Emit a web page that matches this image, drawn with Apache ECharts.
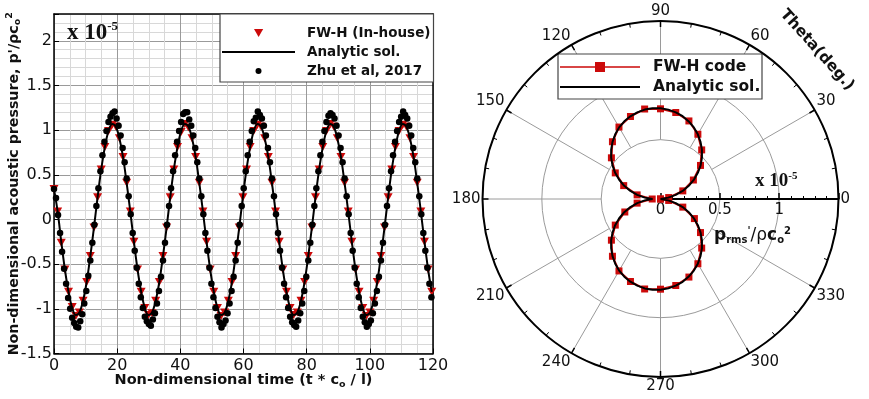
<!DOCTYPE html>
<html>
<head>
<meta charset="utf-8">
<script src="https://cdn.jsdelivr.net/npm/echarts@6/dist/echarts.min.js"></script>
<style>
html,body{margin:0;padding:0;background:#fff}
#chart{width:869px;height:399px}
</style>
</head>
<body>
<div id="chart"></div>
<script>
// left panel: pressure history (values x 1e-5), sampled at a fixed time step
const fwhStep = 1.15
const fwhValues = [
  0.34, 0.09, -0.26, -0.56, -0.81, -0.98, -1.08, -1.04, -0.91, -0.70, -0.41, -0.09, 0.25, 0.56, 0.81, 0.99, 1.06, 1.04, 0.91, 0.70,
  0.41, 0.09, -0.25, -0.56, -0.81, -0.99, -1.07, -1.05, -0.91, -0.70, -0.41, -0.09, 0.25, 0.56, 0.81, 0.98, 1.07, 1.03, 0.91, 0.70,
  0.41, 0.09, -0.25, -0.56, -0.81, -0.99, -1.08, -1.04, -0.91, -0.70, -0.41, -0.09, 0.25, 0.56, 0.81, 0.99, 1.06, 1.04, 0.91, 0.70,
  0.41, 0.09, -0.25, -0.56, -0.81, -0.99, -1.07, -1.04, -0.91, -0.70, -0.41, -0.09, 0.25, 0.56, 0.81, 0.99, 1.07, 1.04, 0.91, 0.70,
  0.41, 0.09, -0.25, -0.56, -0.81, -0.99, -1.08, -1.04, -0.91, -0.70, -0.41, -0.09, 0.25, 0.56, 0.81, 0.99, 1.06, 1.04, 0.91, 0.70,
  0.41, 0.09, -0.25, -0.56, -0.81
]
const analyticStep = 1.15
const analyticValues = [
  0.34, 0.09, -0.25, -0.56, -0.81, -0.99, -1.07, -1.04, -0.91, -0.70, -0.41, -0.09, 0.25, 0.56, 0.81, 0.99, 1.07, 1.04, 0.91, 0.70,
  0.41, 0.09, -0.25, -0.56, -0.81, -0.99, -1.07, -1.04, -0.91, -0.70, -0.41, -0.09, 0.25, 0.56, 0.81, 0.99, 1.07, 1.04, 0.91, 0.70,
  0.41, 0.09, -0.25, -0.56, -0.81, -0.99, -1.07, -1.04, -0.91, -0.70, -0.41, -0.09, 0.25, 0.56, 0.81, 0.99, 1.07, 1.04, 0.91, 0.70,
  0.41, 0.09, -0.25, -0.56, -0.81, -0.99, -1.07, -1.04, -0.91, -0.70, -0.41, -0.09, 0.25, 0.56, 0.81, 0.99, 1.07, 1.04, 0.91, 0.70,
  0.41, 0.09, -0.25, -0.56, -0.81, -0.99, -1.07, -1.04, -0.91, -0.70, -0.41, -0.09, 0.25, 0.56, 0.81, 0.99, 1.07, 1.04, 0.91, 0.70,
  0.41, 0.09, -0.25, -0.56, -0.81
]
const zhuStep = 0.639
const zhuValues = [
  0.34, 0.24, 0.05, -0.15, -0.36, -0.55, -0.72, -0.88, -1.00, -1.10, -1.16, -1.20, -1.21, -1.14, -1.06, -0.94, -0.80, -0.63, -0.46, -0.26, -0.06, 0.15, 0.35, 0.54, 0.72, 0.87, 0.99, 1.09, 1.15, 1.19, 1.21, 1.13, 1.05, 0.94, 0.80, 0.64,
  0.46, 0.26, 0.06, -0.15, -0.35, -0.54, -0.72, -0.87, -0.99, -1.09, -1.14, -1.17, -1.19, -1.12, -1.05, -0.94, -0.80, -0.64, -0.46, -0.26, -0.06, 0.15, 0.35, 0.54, 0.72, 0.87, 0.99, 1.09, 1.18, 1.20, 1.20, 1.12, 1.05, 0.94, 0.80, 0.64,
  0.46, 0.26, 0.06, -0.15, -0.35, -0.54, -0.72, -0.87, -0.99, -1.09, -1.15, -1.21, -1.17, -1.13, -1.05, -0.94, -0.80, -0.64, -0.46, -0.26, -0.06, 0.15, 0.35, 0.54, 0.72, 0.87, 0.99, 1.10, 1.14, 1.21, 1.17, 1.13, 1.05, 0.94, 0.80, 0.64,
  0.46, 0.26, 0.06, -0.15, -0.35, -0.54, -0.72, -0.87, -0.99, -1.09, -1.15, -1.18, -1.20, -1.13, -1.05, -0.94, -0.80, -0.64, -0.46, -0.26, -0.06, 0.15, 0.35, 0.54, 0.72, 0.87, 0.99, 1.09, 1.16, 1.19, 1.17, 1.13, 1.05, 0.94, 0.80, 0.64,
  0.46, 0.26, 0.06, -0.15, -0.35, -0.54, -0.72, -0.87, -0.99, -1.09, -1.15, -1.20, -1.17, -1.13, -1.05, -0.94, -0.80, -0.64, -0.46, -0.26, -0.06, 0.15, 0.35, 0.54, 0.72, 0.87, 0.99, 1.09, 1.15, 1.21, 1.17, 1.13, 1.05, 0.94, 0.80, 0.64,
  0.46, 0.26, 0.06, -0.15, -0.35, -0.54, -0.72, -0.87
]

// right panel: directivity, p'rms (x 1e-5) against theta in degrees
const polarFwhStep = 10
const polarFwhValues = [
  0, 0.07, 0.20, 0.32, 0.44, 0.54, 0.63, 0.70, 0.74, 0.76, 0.77, 0.74, 0.70, 0.63, 0.54, 0.44, 0.33, 0.20, 0.07,
  0.20, 0.32, 0.44, 0.54, 0.63, 0.70, 0.74, 0.77, 0.76, 0.74, 0.70, 0.63, 0.54, 0.44, 0.33, 0.20, 0.07, 0
]
const polarAnalyticStep = 5
const polarAnalyticValues = [
  0, 0, 0.067, 0.133, 0.199, 0.263, 0.325, 0.384, 0.441, 0.494, 0.543, 0.588, 0.629, 0.665, 0.696, 0.722, 0.741, 0.756, 0.765,
  0.768, 0.765, 0.756, 0.742, 0.722, 0.697, 0.665, 0.629, 0.588, 0.543, 0.494, 0.441, 0.384, 0.325, 0.263, 0.199, 0.133, 0.067,
  0.133, 0.199, 0.263, 0.325, 0.384, 0.441, 0.494, 0.543, 0.588, 0.629, 0.665, 0.697, 0.722, 0.742, 0.756, 0.765, 0.768,
  0.765, 0.756, 0.741, 0.722, 0.696, 0.665, 0.629, 0.588, 0.543, 0.494, 0.441, 0.384, 0.325, 0.263, 0.199, 0.133, 0.067, 0, 0
]
const spokeAngles = [30, 60, 90, 120, 150, 180, 210, 240, 270, 300, 330]

const FONT = 'DejaVu Sans'
const RED = '#cc0a0a'
const MAJOR = '#9a9a9a'
const MINOR = '#d8d8d8'
const TRI = 'path://M0,0L10,0L5,8.7Z'
const LINE_ICON = w => `path://M0,0L${w},0L${w},2L0,2Z`
const LINE_SQUARE_ICON = 'path://M0,4.2L80,4.2L80,5.8L0,5.8Z M35,0L45,0L45,10L35,10Z'

const toPairs = (step, values) => values.map((v, i) => [+(i * step).toFixed(3), v])
const toPolar = (step, values) => values.map((r, i) => [r, i * step])

const legendText = (size, pad) => ({
  fontFamily: FONT, fontWeight: 'bold', fontSize: size, color: '#111', lineHeight: 18, padding: [0, 0, 0, pad]
})
const subSup = size => ({
  sub: {fontFamily: FONT, fontWeight: 'bold', fontSize: size, color: '#111', padding: [8, 0, 0, 0]},
  sup: {fontFamily: FONT, fontWeight: 'bold', fontSize: size, color: '#111', padding: [0, 0, 8, 0]}
})

const chart = echarts.init(document.getElementById('chart'))

const spokeSeries = spokeAngles.map(a => ({
  type: 'line', coordinateSystem: 'polar', silent: true, showSymbol: false, symbol: 'none', z: 1,
  lineStyle: {color: MAJOR, width: 1},
  data: [[0.5, a], [1.5, a]]
}))

chart.setOption({
  animation: false,
  backgroundColor: '#fff',
  grid: {left: 54, top: 14, width: 379, height: 339.5, show: false},
  xAxis: [
    {type: 'value', min: 0, max: 120, interval: 5, position: 'bottom', z: 0,
      axisLine: {show: false, onZero: false}, axisTick: {show: false}, axisLabel: {show: false},
      splitLine: {show: true, lineStyle: {color: [MAJOR, MINOR, MINOR, MINOR], width: 1}}},
    {type: 'value', min: 0, max: 120, interval: 20, position: 'bottom', z: 1,
      axisLine: {onZero: false, lineStyle: {color: '#000', width: 1.5}},
      axisTick: {inside: true, length: 5, lineStyle: {color: '#000'}},
      axisLabel: {fontFamily: FONT, fontSize: 16, color: '#111', margin: 4},
      splitLine: {show: false},
      name: 'Non-dimensional time (t * c{sub|o} / l)', nameLocation: 'middle', nameGap: 18, nameMoveOverlap: false,
      nameTextStyle: {fontFamily: FONT, fontWeight: 'bold', fontSize: 14.5, color: '#111', rich: subSup(9.5)}},
    {type: 'value', min: 0, max: 120, position: 'top', z: 1,
      axisLine: {onZero: false, lineStyle: {color: '#000', width: 1.5}},
      axisTick: {show: false}, axisLabel: {show: false}, splitLine: {show: false}}
  ],
  yAxis: [
    {type: 'value', min: -1.5, max: 2.3, interval: 0.1, position: 'left', z: 0,
      axisLine: {show: false, onZero: false}, axisTick: {show: false}, axisLabel: {show: false},
      splitLine: {show: true, lineStyle: {color: [MAJOR, MINOR, MINOR, MINOR, MINOR], width: 1}}},
    {type: 'value', min: -1.5, max: 2.3, interval: 0.5, position: 'left', z: 1,
      axisLine: {onZero: false, lineStyle: {color: '#000', width: 1.5}},
      axisTick: {inside: true, length: 5, lineStyle: {color: '#000'}},
      axisLabel: {fontFamily: FONT, fontSize: 16, color: '#111', margin: 2,
        formatter: v => Math.abs(v * 2 - Math.round(v * 2)) < 1e-6 ? String(v) : ''},
      splitLine: {show: false},
      name: "Non-dimensional acoustic pressure, p'/\u03c1c{sub|o}{sup|2}", nameLocation: 'middle', nameGap: 31,
      nameMoveOverlap: false,
      nameTextStyle: {fontFamily: FONT, fontWeight: 'bold', fontSize: 14.2, color: '#111', rich: subSup(9.5)}},
    {type: 'value', min: -1.5, max: 2.3, position: 'right', z: 1,
      axisLine: {onZero: false, lineStyle: {color: '#000', width: 1.5}},
      axisTick: {show: false}, axisLabel: {show: false}, splitLine: {show: false}}
  ],
  polar: {center: [660.5, 199], radius: 178},
  angleAxis: {
    type: 'value', min: 0, max: 360, interval: 30, startAngle: 0, clockwise: false, z: 3,
    axisLine: {lineStyle: {color: '#000', width: 2}},
    axisTick: {show: true, inside: true, length: 6, lineStyle: {color: '#000', width: 1.5}},
    minorTick: {show: true, splitNumber: 3, length: 4, lineStyle: {color: '#000', width: 1}},
    axisLabel: {fontFamily: FONT, fontSize: 15, color: '#111', margin: 2, formatter: v => v === 360 ? '' : String(v)},
    splitLine: {show: false}
  },
  radiusAxis: {
    type: 'value', min: 0, max: 1.5, interval: 0.5, z: 2,
    axisLine: {lineStyle: {color: '#000', width: 2}},
    axisTick: {show: true, length: 6, lineStyle: {color: '#000', width: 1.5}},
    minorTick: {show: true, splitNumber: 5, length: 3, lineStyle: {color: '#000', width: 1}},
    axisLabel: {fontFamily: FONT, fontSize: 15, color: '#111', margin: -19,
      formatter: v => v >= 1.5 ? '' : String(v)},
    splitLine: {show: true, lineStyle: {color: MAJOR, width: 1}}
  },
  legend: [
    {data: [{name: 'FW-H (In-house)', icon: TRI}], left: 254, top: 24, orient: 'vertical', padding: 0,
      selectedMode: false, itemWidth: 73, itemHeight: 8, textStyle: legendText(13.5, 7)},
    {data: [{name: 'Analytic sol.', icon: LINE_ICON(73)}], left: 222, top: 43, orient: 'vertical', padding: 0,
      selectedMode: false, itemWidth: 73, itemHeight: 10, textStyle: legendText(13.5, 7)},
    {data: [{name: 'Zhu et al, 2017', icon: 'circle'}], left: 255.5, top: 62, orient: 'vertical', padding: 0,
      selectedMode: false, itemWidth: 73, itemHeight: 6, textStyle: legendText(13.5, 7)},
    {data: [{name: 'FW-H code', icon: LINE_SQUARE_ICON}, {name: 'Analytic sol.', icon: LINE_ICON(80)}],
      left: 560, top: 58, orient: 'vertical', padding: 0, itemGap: 2,
      selectedMode: false, itemWidth: 80, itemHeight: 10, textStyle: legendText(15.5, 8)}
  ],
  graphic: [
    {type: 'rect', z: 3, shape: {x: 220, y: 14, width: 213.5, height: 68},
      style: {fill: '#fff', stroke: '#444', lineWidth: 1.2}},
    {type: 'rect', z: 3, shape: {x: 558, y: 54, width: 204, height: 45},
      style: {fill: '#fff', stroke: '#444', lineWidth: 1.2}},
    {type: 'text', z: 5, x: 67, y: 33, style: {
      text: '{a|x 10}{s|-5}', verticalAlign: 'middle',
      rich: {a: {fontFamily: 'Liberation Serif', fontWeight: 'bold', fontSize: 23, fill: '#111'},
        s: {fontFamily: 'Liberation Serif', fontWeight: 'bold', fontSize: 13, fill: '#111', padding: [0, 0, 12, 0]}}}},
    {type: 'text', z: 5, x: 755, y: 181, style: {
      text: '{a|x 10}{s|-5}', verticalAlign: 'middle',
      rich: {a: {fontFamily: 'Liberation Serif', fontWeight: 'bold', fontSize: 19, fill: '#111'},
        s: {fontFamily: 'Liberation Serif', fontWeight: 'bold', fontSize: 11, fill: '#111', padding: [0, 0, 10, 0]}}}},
    {type: 'text', z: 5, x: 714, y: 236, style: {
      text: "{b|p}{s|rms}{p|'}{r|/\u03c1}{b|c}{s|o}{p|2}", verticalAlign: 'middle',
      rich: {b: {fontFamily: FONT, fontWeight: 'bold', fontSize: 17, fill: '#111'},
        r: {fontFamily: FONT, fontSize: 17, fill: '#111'},
        s: {fontFamily: FONT, fontWeight: 'bold', fontSize: 10, fill: '#111', padding: [9, 0, 0, 0]},
        p: {fontFamily: FONT, fontWeight: 'bold', fontSize: 10, fill: '#111', padding: [0, 0, 10, 0]}}}},
    {type: 'text', z: 5, x: 817, y: 50, rotation: -0.84, style: {
      text: 'Theta(deg.)', fontFamily: FONT, fontWeight: 'bold', fontSize: 15.5, fill: '#111',
      align: 'center', verticalAlign: 'middle'}}
  ],
  series: [
    {name: 'FW-H (In-house)', type: 'line', xAxisIndex: 0, yAxisIndex: 0, z: 2,
      symbol: TRI, symbolSize: [9, 8], showSymbol: true, itemStyle: {color: RED},
      lineStyle: {width: 0, opacity: 0},
      data: toPairs(fwhStep, fwhValues)},
    {name: 'Analytic sol.', type: 'line', xAxisIndex: 0, yAxisIndex: 0, z: 3,
      symbol: 'none', smooth: 0.35, itemStyle: {color: '#000'}, lineStyle: {color: '#000', width: 2},
      data: toPairs(analyticStep, analyticValues)},
    {name: 'Zhu et al, 2017', type: 'line', xAxisIndex: 0, yAxisIndex: 0, z: 4,
      symbol: 'circle', symbolSize: 6.5, showSymbol: true, itemStyle: {color: '#000'},
      lineStyle: {width: 0, opacity: 0},
      data: toPairs(zhuStep, zhuValues)},
    ...spokeSeries,
    {name: 'FW-H code', type: 'line', coordinateSystem: 'polar', z: 5,
      symbol: 'rect', symbolSize: 7, showSymbol: true, itemStyle: {color: RED}, lineStyle: {color: RED, width: 2},
      data: toPolar(polarFwhStep, polarFwhValues)},
    {name: 'Analytic sol.', type: 'line', coordinateSystem: 'polar', z: 6,
      symbol: 'none', itemStyle: {color: '#000'}, lineStyle: {color: '#000', width: 2},
      data: toPolar(polarAnalyticStep, polarAnalyticValues)}
  ]
})
</script>
</body>
</html>
